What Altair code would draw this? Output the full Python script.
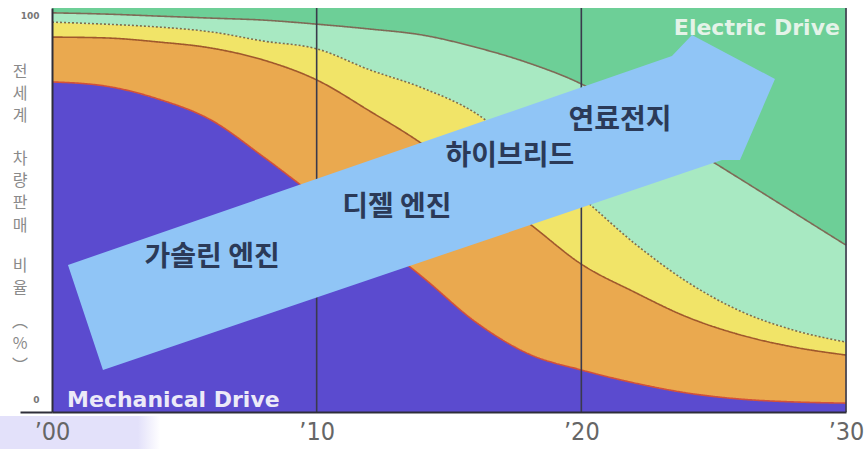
import altair as alt
import pandas as pd

# Share of world vehicle sales (%) by powertrain, 2000-2030
years = [2000, 2002, 2004, 2006, 2008, 2010, 2012, 2014,
         2016, 2018, 2020, 2022, 2024, 2026, 2028, 2030]
gasoline = [81.7, 80.7, 77.5, 72.3, 63.1, 53.2, 43.6, 33.4,
            22.3, 14.4, 10.4, 7.2, 4.7, 3.2, 2.5, 2.2]
diesel = [11.1, 11.9, 14.1, 17.8, 24.0, 29.0, 30.9, 32.9,
          33.9, 32.4, 26.2, 22.5, 18.8, 15.9, 13.6, 11.9]
hybrid = [3.7, 3.4, 3.7, 4.0, 4.7, 7.7, 10.2, 13.9,
          17.8, 16.8, 16.6, 12.1, 8.7, 5.9, 4.2, 3.2]
fuel_cell = [2.3, 2.5, 2.7, 3.4, 5.2, 6.1, 10.1, 13.1,
             16.3, 22.8, 28.0, 31.7, 33.6, 32.7, 29.2, 24.0]
electric = [1.2, 1.5, 2.0, 2.5, 3.0, 4.0, 5.2, 6.7,
            9.7, 13.6, 18.8, 26.5, 34.2, 42.3, 50.5, 58.7]

band_names = ["가솔린 엔진", "디젤 엔진", "하이브리드", "연료전지", "전기"]
band_colors = ["#5b4bcf", "#eaa94f", "#f1e468", "#a8e9c2", "#6dcf97"]
series = [gasoline, diesel, hybrid, fuel_cell, electric]

# Boundary line styles between neighbouring bands (top edge of each band)
edge_colors = ["#d2503a", "#a0582c", "#7f6e4a", "#7e6a56"]
edge_dashes = [[1, 0], [1, 0], [2, 2], [1, 0]]

arrow_labels = ["가솔린 엔진", "디젤 엔진", "하이브리드", "연료전지"]
arrow_label_year = [2006.05, 2013.03, 2017.30, 2021.46]
arrow_label_pct = [38.1, 50.5, 63.1, 72.0]

decade_lines = [2010, 2020, 2030]
x_ticks = [2000, 2010, 2020, 2030]

# Vertical axis title, written top to bottom one character per line, word by word
y_title_words = [["전", "세", "계"], ["차", "량", "판", "매"], ["비", "율"], ["︵", "%", "︶"]]
y_title_tops = [56, 143, 250, 306]

# Stacked bands as explicit lower/upper bounds
rows = []
for i, name in enumerate(band_names):
    for j, yr in enumerate(years):
        lo = sum(s[j] for s in series[:i])
        rows.append({"year": yr, "band": name, "lo": lo, "hi": lo + series[i][j]})
bands = pd.DataFrame(rows)

W, H = 794, 404
x_scale = alt.Scale(domain=[2000, 2030], nice=False, zero=False)
y_scale = alt.Scale(domain=[0, 100], nice=False, zero=False)

x_axis = alt.Axis(
    values=x_ticks, ticks=False, grid=False, title=None,
    labelExpr="'’' + substring(toString(datum.value), 2, 4)",
    labelFont="Liberation Sans Narrow, DejaVu Sans Condensed, sans-serif",
    labelFontSize=25, labelColor="#666666", labelPadding=7,
    labelFlush=False, labelOverlap=False, labelBaseline="top",
    domainColor="#2e2e3a", domainWidth=2, zindex=1,
)
y_axis = alt.Axis(
    values=[0, 100], grid=False, title=None,
    tickSize=32, tickWidth=2,
    tickColor={"condition": {"test": "datum.value == 0", "value": "#2e2e3a"}, "value": "transparent"},
    labelFont="DejaVu Sans", labelFontSize=9, labelFontWeight="bold", labelColor="#777777",
    labelAlign="right", labelPadding=-19, labelBaseline="middle",
    labelOffset={"condition": {"test": "datum.value == 0", "value": -13}, "value": 7},
    domainColor="#2e2e3a", domainWidth=2, zindex=1,
)

areas = alt.Chart(bands).mark_area(interpolate="monotone").encode(
    x=alt.X("year:Q", scale=x_scale, axis=x_axis),
    y=alt.Y("hi:Q", scale=y_scale, axis=y_axis, stack=None),
    y2="lo:Q",
    color=alt.Color("band:N", scale=alt.Scale(domain=band_names, range=band_colors), legend=None),
)

layers = [areas]
for i in range(4):
    edge = bands[bands["band"] == band_names[i]]
    layers.append(
        alt.Chart(edge).mark_line(
            interpolate="monotone", color=edge_colors[i], strokeWidth=1.6,
            strokeDash=edge_dashes[i],
        ).encode(
            x=alt.X("year:Q", scale=x_scale),
            y=alt.Y("hi:Q", scale=y_scale),
        )
    )

rules = alt.Chart(pd.DataFrame({"year": decade_lines})).mark_rule(
    color="#3a3a4c", strokeWidth=1.6
).encode(x=alt.X("year:Q", scale=x_scale))
layers.append(rules)

# Big arrow: outline in pixels around its centre, turned into a symbol path
arrow_outline = [(-353.5, 62.5), (250.5, -146.5), (270.5, -167.5), (353.5, -123.5),
                 (318.5, -42.5), (300.5, -42.5), (-318.5, 167.5)]
R = 353.5
arrow_path = "M" + " L".join(f"{dx / R:.4f},{dy / R:.4f}" for dx, dy in arrow_outline) + " Z"
arrow = alt.Chart(pd.DataFrame({"year": [2013.96], "pct": [51.86]})).mark_point(
    shape=arrow_path, filled=True, color="#90c5f6", opacity=1, strokeWidth=0,
    size=(2 * R) ** 2, clip=False,
).encode(
    x=alt.X("year:Q", scale=x_scale),
    y=alt.Y("pct:Q", scale=y_scale),
)
layers.append(arrow)

labels = alt.Chart(pd.DataFrame({
    "label": arrow_labels, "year": arrow_label_year, "pct": arrow_label_pct,
})).mark_text(
    font="Noto Sans CJK KR", fontSize=28, fontWeight="bold", color="#2b3a58",
    align="center", baseline="middle",
).encode(
    x=alt.X("year:Q", scale=x_scale),
    y=alt.Y("pct:Q", scale=y_scale),
    text="label:N",
)
layers.append(labels)

drive_left = alt.Chart(pd.DataFrame({
    "label": ["Mechanical Drive"], "year": [2000.57], "pct": [1.25],
})).mark_text(
    font="DejaVu Sans", fontSize=22, fontWeight="bold", color="#eceaf8",
    align="left", baseline="alphabetic",
).encode(
    x=alt.X("year:Q", scale=x_scale),
    y=alt.Y("pct:Q", scale=y_scale),
    text="label:N",
)
drive_right = alt.Chart(pd.DataFrame({
    "label": ["Electric Drive"], "year": [2029.77], "pct": [93.3],
})).mark_text(
    font="DejaVu Sans", fontSize=22, fontWeight="bold", color="#e4f3e8",
    align="right", baseline="alphabetic",
).encode(
    x=alt.X("year:Q", scale=x_scale),
    y=alt.Y("pct:Q", scale=y_scale),
    text="label:N",
)
layers += [drive_left, drive_right]

# Axis title words, stacked vertically to the left of the plot
one_row = pd.DataFrame({"k": [0]})
for word, top in zip(y_title_words, y_title_tops):
    layers.append(
        alt.Chart(one_row).mark_text(
            text=word, font="Noto Sans CJK KR", fontSize=16, color="#8a8a8a",
            align="center", baseline="top", lineHeight=22.2, clip=False,
        ).encode(x=alt.value(-32), y=alt.value(top))
    )

# Soft lavender patch under the first year label
patch = alt.Chart(pd.DataFrame({"x0": [1998.0], "x1": [2004.1], "y0": [-1.0], "y1": [-9.3]})).mark_rect(
    clip=False,
    color=alt.LinearGradient(
        gradient="linear", x1=0, x2=1, y1=0, y2=0,
        stops=[alt.GradientStop(color="#e3e1fa", offset=0),
               alt.GradientStop(color="#e3e1fa", offset=0.86),
               alt.GradientStop(color="#ffffff", offset=1)],
    ),
).encode(
    x=alt.X("x0:Q", scale=x_scale), x2="x1:Q",
    y=alt.Y("y0:Q", scale=y_scale), y2="y1:Q",
)
layers.insert(0, patch)

chart = alt.layer(*layers).properties(
    width=W, height=H,
    autosize=alt.AutoSizeParams(type="none"),
    padding={"left": 52, "top": 8, "right": 21, "bottom": 37},
    background="white",
).configure_view(stroke="#c8c8c8", strokeWidth=1)

chart.save("out.html", embed_options={"renderer": "svg", "actions": False})
